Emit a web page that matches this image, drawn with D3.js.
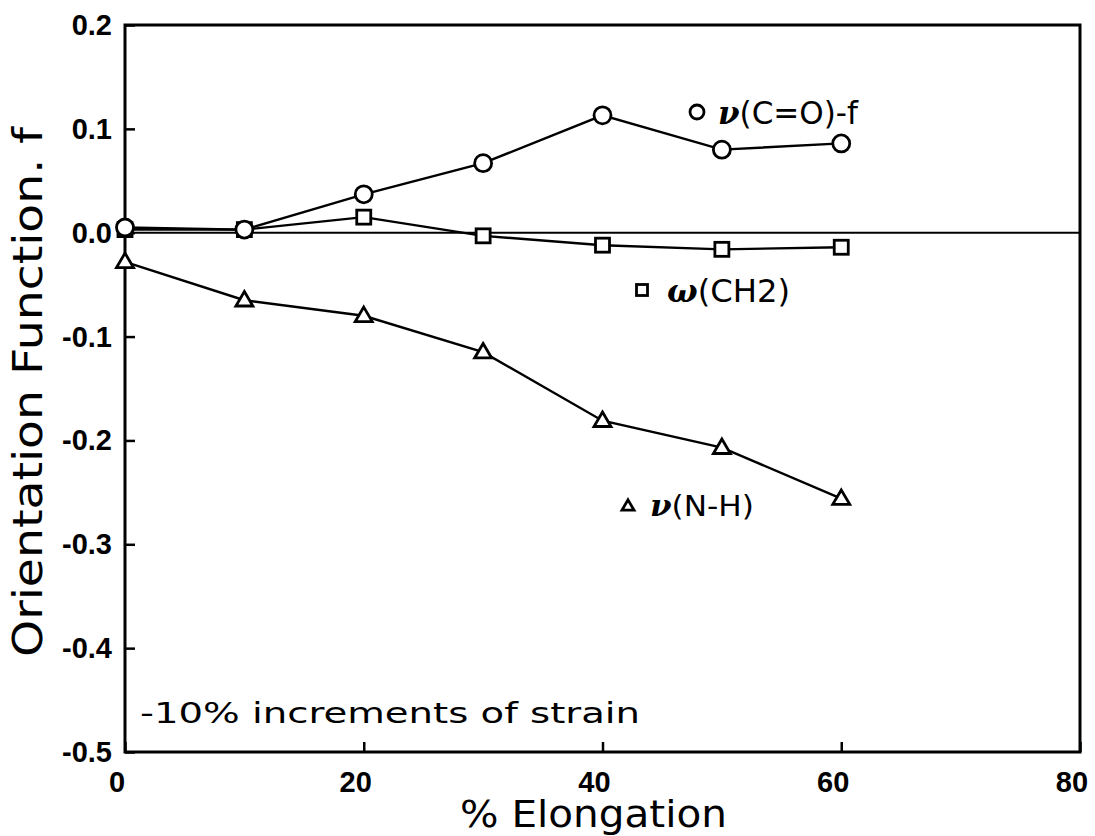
<!DOCTYPE html>
<html><head><meta charset="utf-8">
<script src="https://cdn.jsdelivr.net/npm/d3@7"></script>
<style>body{margin:0;background:#fff}</style>
</head><body>
<svg id="c" width="1095" height="836"></svg>
<script>
const elong = [0, 10, 20, 30, 40, 50, 60];
const coF = [0.005, 0.003, 0.037, 0.067, 0.113, 0.080, 0.086];
const ch2 = [0.003, 0.003, 0.015, -0.003, -0.012, -0.016, -0.014];
const nh = [-0.028, -0.065, -0.080, -0.115, -0.181, -0.207, -0.256];
const xTicks = [0, 20, 40, 60, 80];
const yTicks = [0.2, 0.1, 0.0, -0.1, -0.2, -0.3, -0.4, -0.5];

const svg = d3.select("#c");
const L = 125, R = 1080, T = 25, B = 752;
const x = d3.scaleLinear().domain([0, 80]).range([L, R]);
const y = d3.scaleLinear().domain([-0.5, 0.2]).range([B, T]);
const font = "'DejaVu Sans', sans-serif";
const tickFont = "'Liberation Sans', Arial, sans-serif";

// frame
svg.append("rect").attr("x", L).attr("y", T).attr("width", R - L).attr("height", B - T)
  .attr("fill", "none").attr("stroke", "#000").attr("stroke-width", 3);
// zero line
svg.append("line").attr("x1", L).attr("x2", R).attr("y1", y(0)).attr("y2", y(0))
  .attr("stroke", "#000").attr("stroke-width", 2);

// axes
const yAx = svg.append("g").attr("transform", `translate(${L},0)`)
  .call(d3.axisRight(y).tickValues(yTicks).tickSize(10).tickFormat(""));
yAx.select(".domain").remove();
yAx.selectAll("line").attr("stroke-width", 2.5);
svg.append("g").selectAll("text").data(yTicks).join("text")
  .attr("x", L - 13).attr("y", d => y(d) + 10).attr("text-anchor", "end")
  .attr("font-family", tickFont).attr("font-weight", "bold").attr("font-size", 29)
  .text(d => d3.format(".1f")(d).replace("−", "-"));

const xAx = svg.append("g").attr("transform", `translate(0,${B})`)
  .call(d3.axisTop(x).tickValues(xTicks).tickSize(10).tickFormat(""));
xAx.select(".domain").remove();
xAx.selectAll("line").attr("stroke-width", 2.5);
svg.append("g").selectAll("text").data(xTicks).join("text")
  .attr("x", d => Math.min(x(d) - 8, 1076)).attr("y", B + 40).attr("text-anchor", "middle")
  .attr("font-family", tickFont).attr("font-weight", "bold").attr("font-size", 29)
  .text(d => d);

// axis labels
svg.append("text").attr("x", 460).attr("y", 827).attr("textLength", 267)
  .attr("lengthAdjust", "spacingAndGlyphs")
  .attr("font-family", font).attr("font-size", 38).text("% Elongation");
svg.append("text").attr("transform", "translate(42,657) rotate(-90)")
  .attr("textLength", 530).attr("lengthAdjust", "spacingAndGlyphs")
  .attr("font-family", font).attr("font-size", 40)
  .text("Orientation Function. f");

// annotation
svg.append("text").attr("x", 140).attr("y", 723).attr("textLength", 500)
  .attr("lengthAdjust", "spacingAndGlyphs")
  .attr("font-family", font).attr("font-size", 28).text("-10% increments of strain");

const line = d3.line().x((d, i) => x(elong[i])).y(d => y(d));
function series(vals) {
  svg.append("path").datum(vals).attr("d", line).attr("fill", "none")
    .attr("stroke", "#000").attr("stroke-width", 2.4);
}
series(coF); series(ch2); series(nh);

const mk = { fill: "#fff", stroke: "#000", sw: 2.8 };
function circle(cx, cy, r) {
  svg.append("circle").attr("cx", cx).attr("cy", cy).attr("r", r)
    .attr("fill", mk.fill).attr("stroke", mk.stroke).attr("stroke-width", mk.sw);
}
function square(cx, cy, s) {
  svg.append("rect").attr("x", cx - s / 2).attr("y", cy - s / 2).attr("width", s).attr("height", s)
    .attr("fill", mk.fill).attr("stroke", mk.stroke).attr("stroke-width", mk.sw);
}
function tri(cx, cy, s) {
  const h = s * 0.85;
  svg.append("path").attr("d", `M${cx},${cy - h * 0.6}L${cx + s / 2},${cy + h * 0.4}L${cx - s / 2},${cy + h * 0.4}Z`)
    .attr("fill", mk.fill).attr("stroke", mk.stroke).attr("stroke-width", mk.sw);
}
ch2.forEach((v, i) => square(x(elong[i]), y(v), 14));
nh.forEach((v, i) => tri(x(elong[i]), y(v), 17));
coF.forEach((v, i) => circle(x(elong[i]), y(v), 8.5));

// legend labels
circle(697, 112, 7);
const g1 = svg.append("text").attr("x", 718).attr("y", 124).attr("font-family", font).attr("font-size", 32)
  .attr("textLength", 140).attr("lengthAdjust", "spacingAndGlyphs");
g1.append("tspan").attr("font-family", "'DejaVu Serif', serif").attr("font-style", "italic").attr("font-weight", "bold").text("ν");
g1.append("tspan").text("(C=O)-f");

square(642, 290, 11);
const g2 = svg.append("text").attr("x", 667).attr("y", 302).attr("font-family", font).attr("font-size", 32)
  .attr("textLength", 123).attr("lengthAdjust", "spacingAndGlyphs");
g2.append("tspan").attr("font-family", "'DejaVu Serif', serif").attr("font-style", "italic").attr("font-weight", "bold").text("ω");
g2.append("tspan").text("(CH2)");

tri(628, 506, 12);
const g3 = svg.append("text").attr("x", 650).attr("y", 516).attr("font-family", font).attr("font-size", 29)
  .attr("textLength", 104).attr("lengthAdjust", "spacingAndGlyphs");
g3.append("tspan").attr("font-family", "'DejaVu Serif', serif").attr("font-style", "italic").attr("font-weight", "bold").text("ν");
g3.append("tspan").text("(N-H)");
</script>
</body></html>
